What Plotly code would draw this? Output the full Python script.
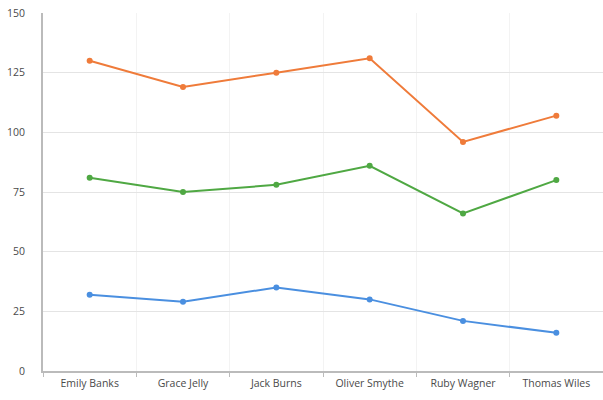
import plotly.graph_objects as go

categories = ["Emily Banks", "Grace Jelly", "Jack Burns", "Oliver Smythe", "Ruby Wagner", "Thomas Wiles"]
orange_values = [130, 119, 125, 131, 96, 107]
green_values = [81, 75, 78, 86, 66, 80]
blue_values = [32, 29, 35, 30, 21, 16]
y_ticks = [0, 25, 50, 75, 100, 125, 150]

series = [
    (orange_values, "#ef7b3a"),
    (green_values, "#4fa843"),
    (blue_values, "#4a8fe0"),
]

fig = go.Figure()
for vals, col in series:
    fig.add_trace(go.Scatter(
        x=categories, y=vals, mode="lines+markers",
        line=dict(color=col, width=2),
        marker=dict(color=col, size=6),
        showlegend=False,
        cliponaxis=False,
    ))

fig.update_layout(
    width=603, height=400,
    margin=dict(l=43, r=0, t=13, b=29, autoexpand=False),
    paper_bgcolor="white", plot_bgcolor="white",
    font=dict(family="Open Sans", size=10.5, color="#4a4a4a"),
    xaxis=dict(
        type="category", tickson="boundaries",
        ticks="outside", ticklen=4, tickcolor="#bbbbbb",
        showgrid=True, gridcolor="#f3f3f3",
        showline=True, linecolor="#bbbbbb", linewidth=2,
        range=[-0.5, 5.5], ticklabelstandoff=1, automargin=False,
    ),
    yaxis=dict(
        range=[0, 150], tickvals=y_ticks,
        showgrid=True, gridcolor="#e4e4e4", gridwidth=1,
        showline=True, linecolor="#bbbbbb", linewidth=2,
        zeroline=False, ticks="", ticklabelstandoff=14, automargin=False,
    ),
)

fig.write_html(
    "out.html",
    config={"displayModeBar": False},
    post_script="document.body.style.margin='0';document.body.style.overflow='hidden';",
)
